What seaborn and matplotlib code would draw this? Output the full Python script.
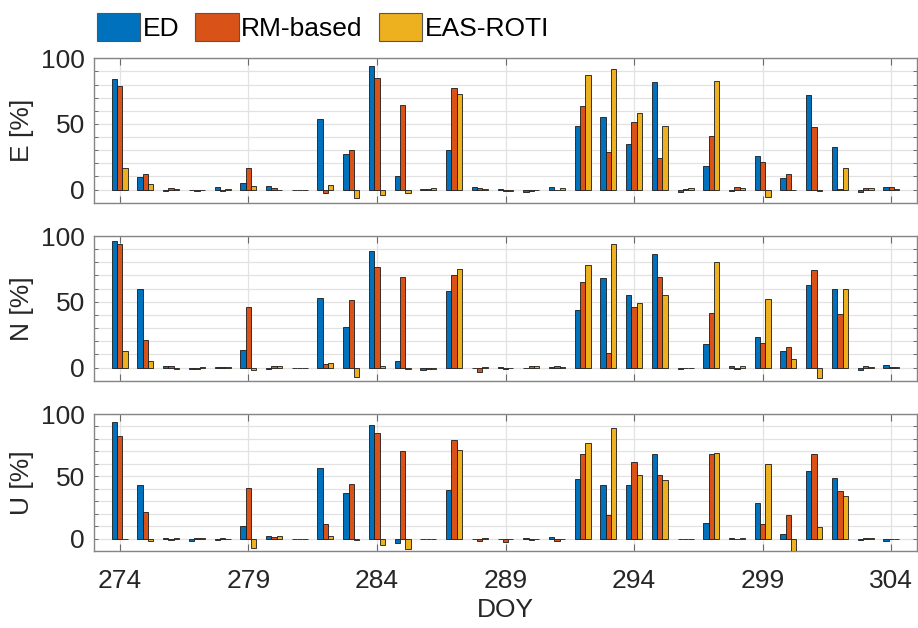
import numpy as np
import pandas as pd
import matplotlib
matplotlib.use("Agg")
import matplotlib.pyplot as plt
from matplotlib.patches import Patch
from matplotlib.ticker import MultipleLocator
import seaborn as sns

days = list(range(274, 305))
methods = ["ED", "RM-based", "EAS-ROTI"]
colors = ["#0072BD", "#D95319", "#EDB120"]

E_ED = [84, 9.7, -1, -0.3, 1.8, 4.8, 2.8, 0, 53.7, 27.2, 94.1, 10.4, 0.3, 30.3, 1.8, 0.3,
        -2, 2, 48.3, 55.5, 34.4, 81.7, -2, 17.6, -0.8, 25.7, 8.7, 71.8, 32.8, -1.5, 2.3]
E_RM = [79, 12, 1.5, -0.8, -0.8, 16.8, 1, 0, -2.5, 30.3, 84.7, 64.4, 0.8, 77.1, 1, -1,
        -0.8, -0.5, 63.9, 29, 51.4, 24.2, 0.3, 40.7, 1.8, 20.9, 11.7, 47.3, 0.3, 1, 1.8]
E_EAS = [16.3, 4.6, 0.8, -0.5, 0.5, 3, 0, 0, 3.8, -6.6, -3.8, -2.3, 1.5, 72.5, 0.8, -1,
         -0.3, 1.5, 87.3, 91.9, 58.5, 48.3, 1, 82.4, 1.3, -5.9, -0.5, -1, 16.3, 1, 0.5]

N_ED = [96.2, 59.9, 1.5, -1, 0.5, 13.7, -1, 0, 52.8, 30.5, 88.8, 4.8, -1.8, 58.4, 0, 0.8,
        0, 0.3, 43.9, 68.3, 55.1, 86.5, -1.3, 17.8, 1.5, 23.4, 12.9, 62.9, 59.4, -2, 1.8]
N_RM = [94.2, 20.8, 1, -0.8, 0.5, 45.7, 1.5, 0, 3, 51.3, 76.1, 69, -0.8, 70, -3, -0.8,
        1.5, 1, 64.7, 11.2, 45.7, 69, -0.3, 41.6, -1.3, 19, 15.5, 74.4, 40.9, 1, 0.8]
N_EAS = [12.4, 5.3, -1, 0.5, 0.5, -1.5, 1.5, 0, 3.3, -7.4, 1.5, -0.8, -0.8, 74.6, 0.8, -0.5,
         1, 0.5, 78.2, 94.2, 49, 54.8, 0, 80.2, 1, 52.3, 6.9, -8.1, 59.4, 0.5, 0.5]

U_ED = [93.6, 43.3, 0.5, -1.9, -0.8, 10.2, 1.9, 0, 56.7, 36.4, 91.4, -3.7, 0, 38.8, 0, -0.5,
        0.3, 1.1, 47.9, 42.8, 43, 68.2, 0, 12.8, 0.8, 28.9, 3.7, 54, 48.7, -1.3, -1.6]
U_RM = [82.4, 21.1, -0.8, 0.5, 0.8, 40.6, 1.1, 0, 11.8, 43.6, 85, 70.6, 0, 78.9, -2.1, -2.4,
        -1.3, -1.6, 68.2, 19, 61.5, 51.3, 0, 68.2, 0, 11.8, 19, 68.2, 38, 0.3, 0]
U_EAS = [-0.5, -1.9, 0.8, 0.3, -0.5, -7.2, 1.9, 0, 1.9, -1, -5.3, -8.6, -0.3, 70.9, 0.8, -0.5,
         -0.5, -0.5, 76.5, 89, 51.3, 47.1, 0, 68.4, 0.8, 59.6, -10.5, 9.6, 34.5, 0.3, 0]

panels = [("E [%]", [E_ED, E_RM, E_EAS]),
          ("N [%]", [N_ED, N_RM, N_EAS]),
          ("U [%]", [U_ED, U_RM, U_EAS])]

xticks = list(range(274, 305, 5))

sns.set_style("white")
plt.rcParams["font.family"] = ["Liberation Sans", "DejaVu Sans"]
FS = 19
TXT = "#262626"

fig = plt.figure(figsize=(9.18, 6.28), dpi=100)
W, H = 918, 628
left_px, right_px = 94, 917
boxes = [(58.3, 202.7), (236, 380.8), (414, 551)]

axes = []
for i, ((lab, series), (t, b)) in enumerate(zip(panels, boxes)):
    ax = fig.add_axes([left_px / W, 1 - b / H, (right_px - left_px) / W, (b - t) / H])
    rows = []
    for m, vals in zip(methods, series):
        for d, v in zip(days, vals):
            rows.append({"DOY": d, "val": v, "method": m})
    df = pd.DataFrame(rows)
    sns.barplot(data=df, x="DOY", y="val", hue="method", hue_order=methods,
                palette=colors, native_scale=True, width=0.62, errorbar=None,
                saturation=1, edgecolor="#1a1a1a", linewidth=0.6, legend=False,
                ax=ax, zorder=3)
    ax.set_xlim(273, 305)
    ax.set_ylim(-10, 100)
    ax.set_xticks(xticks)
    ax.set_yticks([0, 50, 100])
    ax.yaxis.set_minor_locator(MultipleLocator(10))
    ax.set_axisbelow(True)
    ax.grid(True, axis="y", which="both", color="#e2e2e2", linewidth=0.9, zorder=0)
    ax.grid(True, axis="x", which="major", color="#e2e2e2", linewidth=0.9, zorder=0)
    for s in ax.spines.values():
        s.set_color("#858585")
        s.set_linewidth(1.0)
        s.set_visible(True)
    ax.tick_params(axis="x", which="major", direction="in", top=True, bottom=True,
                   length=4.7, width=0.8, color="#6a6a6a", labelsize=FS,
                   labelcolor=TXT, pad=13)
    ax.tick_params(axis="y", which="both", direction="in", left=True, right=True,
                   length=2.9, width=0.7, color="#6a6a6a", labelsize=FS,
                   labelcolor=TXT, pad=6.5)
    ax.set_ylabel(lab, fontsize=FS, color=TXT)
    ax.yaxis.set_label_coords(-0.073, 0.5)
    if i < 2:
        ax.set_xticklabels([])
        ax.set_xlabel("")
    else:
        ax.set_xticklabels([str(x) for x in xticks])
        ax.set_xlabel("DOY", fontsize=FS, color=TXT)
        ax.xaxis.set_label_coords(0.5, -0.34)
    axes.append(ax)

handles = [Patch(facecolor=c, edgecolor="#555555", linewidth=0.8) for c in colors]
fig.legend(handles, methods, loc="upper left", bbox_to_anchor=(97 / W, 1 - 12.5 / H),
           ncol=3, frameon=False, fontsize=FS, handlelength=1.64, handleheight=1.31,
           handletextpad=0.1, columnspacing=0.6, borderpad=0, borderaxespad=0,
           labelcolor="black")

fig.savefig("out.png", dpi=100)
